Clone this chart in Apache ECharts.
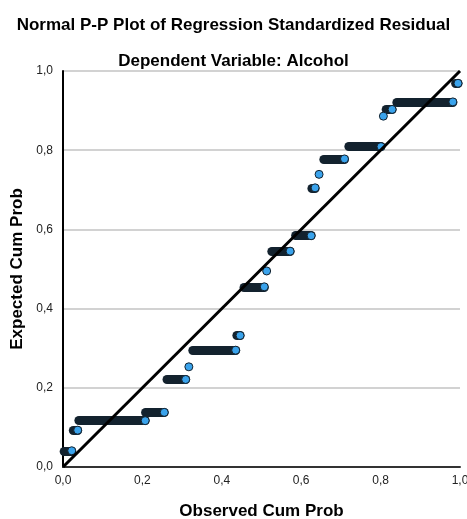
<!DOCTYPE html>
<html>
<head>
<meta charset="utf-8">
<script src="https://cdn.jsdelivr.net/npm/echarts@6/dist/echarts.min.js"></script>
<style>
  html, body { margin: 0; padding: 0; background: #fff; }
  #chart { width: 467px; height: 519px; }
</style>
</head>
<body>
<div id="chart"></div>
<script>
// tied residuals form horizontal runs: expected cum prob level, first and last observed cum prob
var runLevel = [0.041, 0.093, 0.117, 0.138, 0.221, 0.253, 0.295, 0.332, 0.455, 0.495,
                0.545, 0.584, 0.705, 0.739, 0.778, 0.809, 0.886, 0.903, 0.922, 0.969];
var runStart = [0.003, 0.026, 0.040, 0.208, 0.262, 0.317, 0.327, 0.438, 0.456, 0.513,
                0.526, 0.586, 0.627, 0.645, 0.657, 0.720, 0.807, 0.814, 0.841, 0.989];
var runEnd   = [0.022, 0.037, 0.207, 0.255, 0.309, 0.317, 0.435, 0.446, 0.507, 0.513,
                0.572, 0.625, 0.635, 0.645, 0.709, 0.801, 0.807, 0.829, 0.982, 0.995];
var refLine = [0, 1];

var FONT = '"Liberation Sans", Arial, sans-serif';

// the dark "capsules" are many overlapping outlined markers
var runSegments = runLevel.map(function (lvl, i) {
    return { coords: [[runStart[i], lvl], [runEnd[i], lvl]] };
});
var lastPoints = runLevel.map(function (lvl, i) {
    return [runEnd[i], lvl];
});

function commaLabel(v) {
    return v.toFixed(1).replace('.', ',');
}

var chart = echarts.init(document.getElementById('chart'), null, { renderer: 'canvas' });

var option = {
    animation: false,
    backgroundColor: '#ffffff',
    title: [
        {
            text: 'Normal P-P Plot of Regression Standardized Residual',
            left: 'center',
            top: 12,
            textStyle: { fontFamily: FONT, fontSize: 17, fontWeight: 'bold', color: '#000' }
        },
        {
            text: 'Dependent Variable: Alcohol',
            left: 'center',
            top: 48,
            textStyle: { fontFamily: FONT, fontSize: 17, fontWeight: 'bold', color: '#000' }
        }
    ],
    grid: { left: 63, right: 7, top: 71, bottom: 52, outerBoundsMode: 'none', containLabel: false },
    xAxis: {
        type: 'value',
        min: 0,
        max: 1,
        interval: 0.2,
        name: 'Observed Cum Prob',
        nameLocation: 'middle',
        nameGap: 36,
        nameTextStyle: { fontFamily: FONT, fontSize: 17, fontWeight: 'bold', color: '#000' },
        axisLine: { onZero: false, lineStyle: { color: '#333', width: 2 } },
        axisTick: { show: false },
        splitLine: { show: false },
        axisLabel: {
            fontFamily: FONT, fontSize: 12, color: '#222', margin: 8,
            formatter: commaLabel
        }
    },
    yAxis: {
        type: 'value',
        min: 0,
        max: 1,
        interval: 0.2,
        name: 'Expected Cum Prob',
        nameLocation: 'middle',
        nameGap: 37,
        nameTextStyle: { fontFamily: FONT, fontSize: 17, fontWeight: 'bold', color: '#000' },
        axisLine: { show: true, onZero: false, lineStyle: { color: '#000', width: 2 } },
        axisTick: { show: false },
        splitLine: { show: true, lineStyle: { color: '#d2d2d2', width: 2 } },
        axisLabel: {
            fontFamily: FONT, fontSize: 12, color: '#222', margin: 10,
            formatter: commaLabel
        }
    },
    series: [
        {
            type: 'lines',
            coordinateSystem: 'cartesian2d',
            polyline: false,
            silent: true,
            z: 2,
            lineStyle: { color: '#13222e', width: 9, cap: 'round', opacity: 1 },
            data: runSegments
        },
        {
            type: 'scatter',
            symbol: 'circle',
            symbolSize: 8,
            z: 3,
            itemStyle: { color: '#3aa3ec', borderColor: '#13222e', borderWidth: 1, opacity: 1 },
            data: lastPoints
        },
        {
            type: 'line',
            z: 4,
            symbol: 'none',
            lineStyle: { color: '#000', width: 3 },
            data: [[refLine[0], refLine[0]], [refLine[1], refLine[1]]]
        }
    ]
};

chart.setOption(option);
</script>
</body>
</html>
